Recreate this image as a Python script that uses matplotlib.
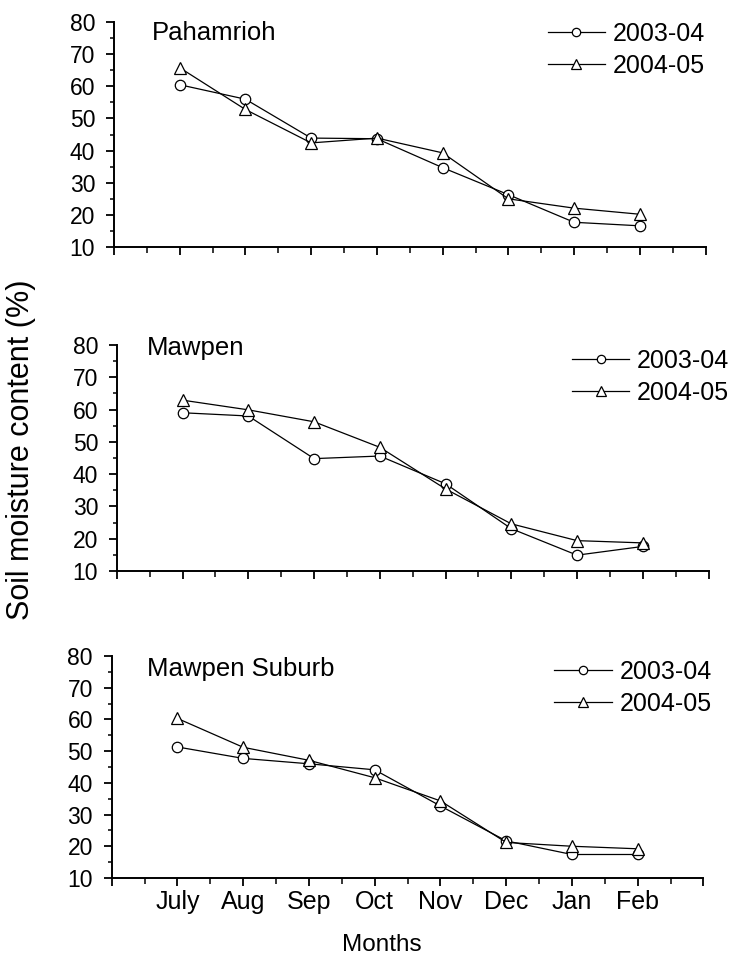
import matplotlib
matplotlib.use("Agg")
from matplotlib import pyplot as plt
from matplotlib.ticker import MultipleLocator

plt.rcParams['font.family'] = ['Liberation Sans', 'DejaVu Sans']

months = ['July', 'Aug', 'Sep', 'Oct', 'Nov', 'Dec', 'Jan', 'Feb']
seasons = ['2003-04', '2004-05']

# soil moisture (%) per site, one list per season
pah_0304 = [60.5, 56.0, 43.9, 43.7, 34.7, 26.3, 17.7, 16.6]
pah_0405 = [65.8, 52.8, 42.4, 43.9, 39.3, 25.0, 22.1, 20.2]
maw_0304 = [59.0, 58.0, 44.8, 45.6, 37.0, 23.1, 14.9, 17.6]
maw_0405 = [62.9, 59.9, 56.2, 48.3, 35.4, 24.6, 19.4, 18.7]
sub_0304 = [51.3, 47.7, 46.0, 44.1, 32.7, 21.7, 17.4, 17.4]
sub_0405 = [60.3, 51.2, 47.1, 41.6, 34.3, 21.2, 20.0, 19.2]

sites = ['Pahamrioh', 'Mawpen', 'Mawpen Suburb']
site_data = [(pah_0304, pah_0405), (maw_0304, maw_0405), (sub_0304, sub_0405)]

# axes rects, title pos, legend anchor
rects = [[0.155, 0.7424, 0.805, 0.2346],
         [0.159, 0.4046, 0.805, 0.2357],
         [0.152, 0.0845, 0.805, 0.2315]]
title_pos = [(0.064, 0.951), (0.05, 0.987), (0.06, 0.941)]
leg_anchor = [(0.733, 1.0), (0.769, 0.982), (0.748, 0.982)]

fig = plt.figure(figsize=(7.35, 9.59), dpi=100)
x = list(range(1, len(months) + 1))

for i, site in enumerate(sites):
    ax = fig.add_axes(rects[i])
    a, b = site_data[i]
    ax.plot(x, a, color='black', lw=0.9, marker='o', ms=7.5,
            mfc='white', mec='black', mew=0.9, label=seasons[0])
    ax.plot(x, b, color='black', lw=0.9, marker='^', ms=9,
            mfc='white', mec='black', mew=0.9, label=seasons[1])

    ax.set_xlim(0, 9)
    ax.set_ylim(10, 80)
    ax.spines['top'].set_visible(False)
    ax.spines['right'].set_visible(False)
    ax.spines['left'].set_linewidth(1.4)
    ax.spines['bottom'].set_linewidth(1.4)

    ax.yaxis.set_major_locator(MultipleLocator(10))
    ax.yaxis.set_minor_locator(MultipleLocator(5))
    ax.set_xticks(range(0, 10))
    ax.xaxis.set_minor_locator(MultipleLocator(0.5))
    if i == 2:
        ax.set_xticklabels([''] + months + [''])
    else:
        ax.set_xticklabels([])
    ax.tick_params(axis='y', which='major', direction='out', length=5.5,
                   width=1.3, labelsize=16.5, pad=8)
    ax.tick_params(axis='y', which='minor', direction='out', length=3,
                   width=1.1)
    ax.tick_params(axis='x', which='major', direction='out', length=6,
                   width=1.3, labelsize=18, pad=3)
    ax.tick_params(axis='x', which='minor', direction='out', length=4.5,
                   width=1.1)

    ax.text(title_pos[i][0], title_pos[i][1], site, transform=ax.transAxes,
            fontsize=18.5, va='center', ha='left')

    ax.legend(loc='upper left', bbox_to_anchor=leg_anchor[i], frameon=False,
              fontsize=18, handlelength=2.3, handletextpad=0.3,
              labelspacing=0.32, borderpad=0, borderaxespad=0, markerscale=0.8)

fig.text(0.029, 0.531, 'Soil moisture content (%)', rotation=90,
         fontsize=22, ha='center', va='center')
fig.text(0.519, 0.0145, 'Months', fontsize=17.5, ha='center', va='center')

fig.savefig('out.png', dpi=100)
